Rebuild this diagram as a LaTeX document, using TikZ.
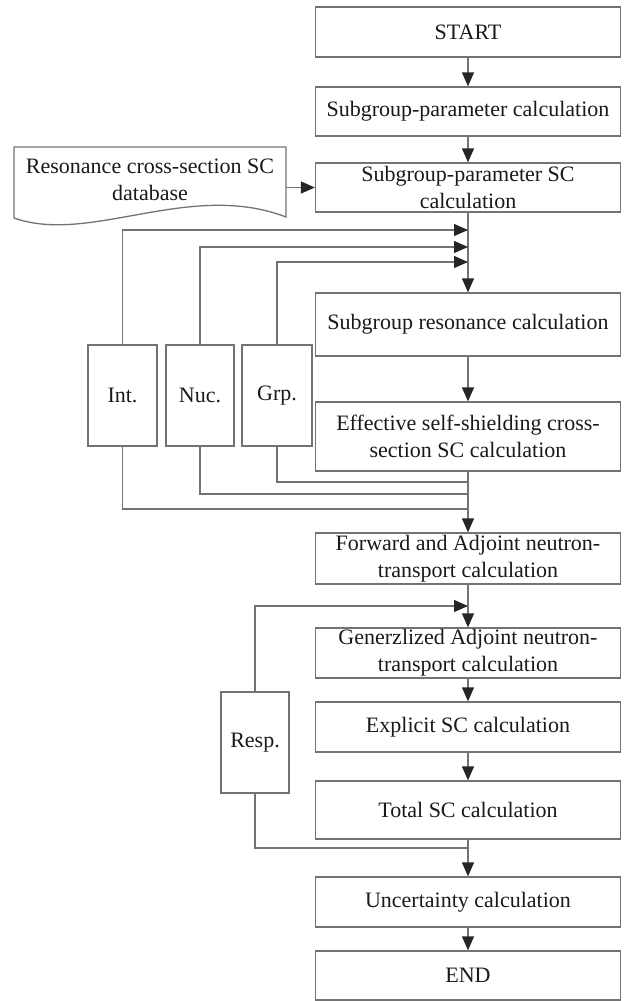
\documentclass[tikz,border=0pt]{standalone}
\usepackage{fontspec}
\setmainfont{Liberation Serif}
\usetikzlibrary{arrows.meta}
\begin{document}
\begin{tikzpicture}[x=1pt,y=-1pt,
  font=\fontsize{22}{27}\selectfont,
  ln/.style={draw=black!55,line width=1.3pt},
  arr/.style={ln,-{Triangle[length=14pt,width=12pt,color=black!85]}},
  mbox/.style={ln,rectangle,minimum width=305pt,inner sep=0pt,align=center,text=black!90},
  sbox/.style={ln,rectangle,minimum height=101pt,inner sep=0pt,text=black!90}]
\useasboundingbox (0,0) rectangle (624,1001);
% main column
\node[mbox,minimum height=50pt] (start) at (468,32) {START};
\node[mbox,minimum height=49pt] (sp) at (468,111.5) {Subgroup-parameter calculation};
\node[mbox,minimum height=49pt] (spsc) at (468,187.5) {Subgroup-parameter SC\\calculation};
\node[mbox,minimum height=63pt] (sr) at (468,324.5) {Subgroup resonance calculation};
\node[mbox,minimum height=69pt] (eff) at (468,436.5) {Effective self-shielding cross-\\section SC calculation};
\node[mbox,minimum height=51pt] (fwd) at (468,558.5) {Forward and Adjoint neutron-\\transport calculation};
\node[mbox,minimum height=50pt] (gen) at (468,653) {Generzlized Adjoint neutron-\\transport calculation};
\node[mbox,minimum height=50pt] (expl) at (468,727) {Explicit SC calculation};
\node[mbox,minimum height=58pt] (tot) at (468,810) {Total SC calculation};
\node[mbox,minimum height=50pt] (unc) at (468,902) {Uncertainty calculation};
\node[mbox,minimum height=49pt] (endn) at (468,975.5) {END};
% side boxes
\node[sbox,minimum width=69pt] (int) at (122.5,395.5) {Int.};
\node[sbox,minimum width=68pt] (nuc) at (200,395.5) {Nuc.};
\node[sbox,minimum width=70pt] (grp) at (277,395.5) {Grp.};
\node[sbox,minimum width=68pt] (resp) at (255,742.5) {Resp.};
% database
\node[minimum width=272pt,minimum height=70pt,inner sep=0pt,align=center,text=black!90] (db) at (150,182)
  {\raisebox{6pt}{\begin{tabular}{@{}c@{}}Resonance cross-section SC\\database\end{tabular}}};
\draw[ln] (14,218) -- (14,147) -- (286,147) -- (286,217)
  .. controls (190,180) and (90,245) .. (14,218) -- cycle;
\coordinate (dbout) at (286,187.5);
% coordinates on the centre line
\coordinate (f1) at (468,230);
\coordinate (f2) at (468,247);
\coordinate (f3) at (468,262);
\coordinate (r1) at (468,482);
\coordinate (r2) at (468,494);
\coordinate (r3) at (468,509);
\coordinate (rp) at (468,606);
\coordinate (rr) at (468,848);
% connectors
\draw[arr] (start) -- (sp);
\draw[arr] (sp) -- (spsc);
\draw[arr] (dbout) -- (spsc.west);
\draw[arr] (spsc) -- (sr);
\draw[arr] (int.north) |- (f1);
\draw[arr] (nuc.north) |- (f2);
\draw[arr] (grp.north) |- (f3);
\draw[arr] (sr) -- (eff);
\draw[ln] (grp.south) |- (r1);
\draw[ln] (nuc.south) |- (r2);
\draw[ln] (int.south) |- (r3);
\draw[arr] (eff) -- (fwd);
\draw[arr] (fwd) -- (gen);
\draw[arr] (resp.north) |- (rp);
\draw[arr] (gen) -- (expl);
\draw[arr] (expl) -- (tot);
\draw[ln] (resp.south) |- (rr);
\draw[arr] (tot) -- (unc);
\draw[arr] (unc) -- (endn);
\end{tikzpicture}
\end{document}
